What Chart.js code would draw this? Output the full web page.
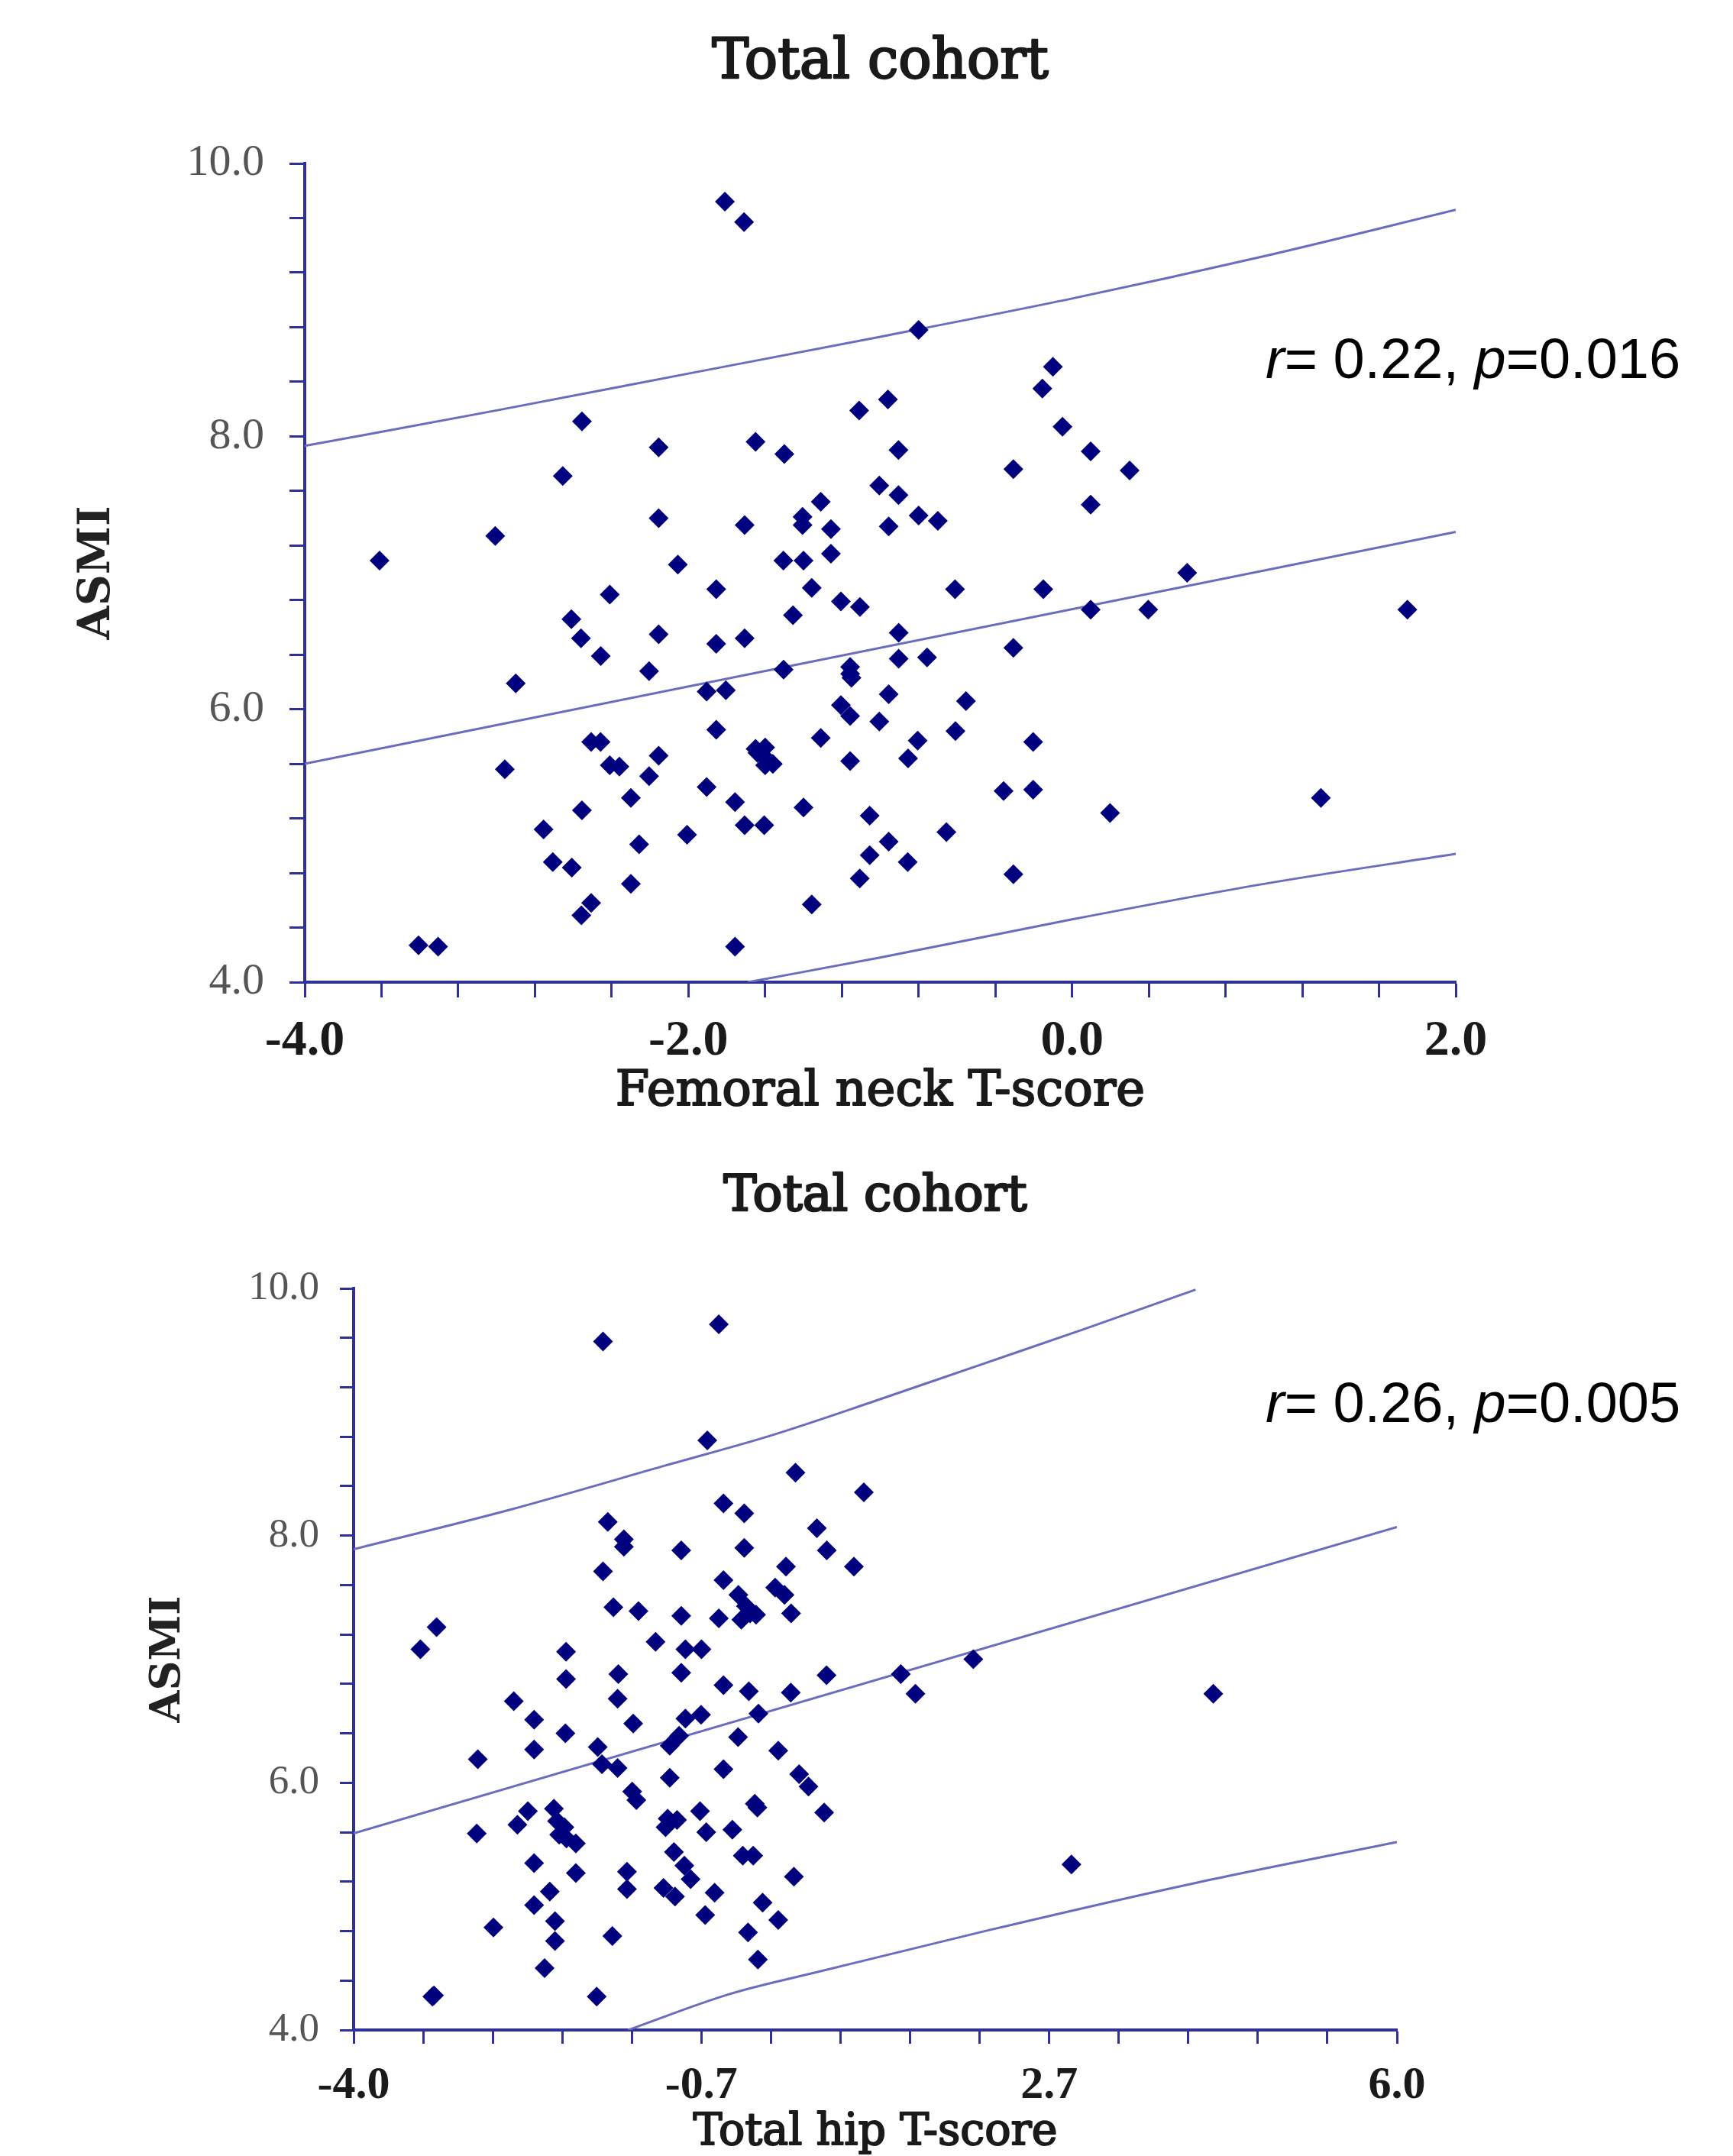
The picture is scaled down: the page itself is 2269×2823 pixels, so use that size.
<!DOCTYPE html>
<html>
<head>
<meta charset="utf-8">
<title>ASMI vs T-score</title>
<script src="https://cdn.jsdelivr.net/npm/chart.js@4.4.0/dist/chart.umd.min.js"></script>
<style>
  html, body { margin: 0; padding: 0; background: #fff; }
  body { width: 2269px; height: 2823px; position: relative; overflow: hidden; }
  canvas { position: absolute; left: 0; }
  #fnChart { top: 0; }
  #thChart { top: 1470px; }
</style>
</head>
<body>
<canvas id="fnChart" width="2269" height="1470"></canvas>
<canvas id="thChart" width="2269" height="1353"></canvas>
<script>
// --- Femoral neck panel: points ---
const fnX = [-1.81, -1.71, -0.80, -0.10, -0.155, -1.11, -0.96, -2.555, -0.05, -2.155,
  -1.65, -1.50, -0.905, 0.097, 0.30, -0.306, -2.655, -1.005, -0.905, -1.31,
  0.097, -2.155, -1.707, -1.405, -1.405, -1.257, -0.956, -0.80, -0.70, -3.007,
  -1.257, -3.61, -2.055, -1.505, -1.40, -1.357, -1.855, -2.41, -0.61, -0.15,
  0.60, -1.205, -1.106, -1.455, 0.097, 0.397, 1.748, -2.61, -2.56, -2.155,
  -1.707, -1.855, -0.904, -0.306, -2.457, -0.904, -0.756, -1.157, -1.157, -1.15,
  -2.205, -1.504, -2.90, -1.905, -1.805, -0.956, -0.553, -1.205, -1.157, -1.005,
  -0.608, -1.855, -1.31, -2.507, -2.458, -0.805, -0.203, -1.65, -1.60, -2.155,
  -1.61, -1.64, -1.56, -1.60, -1.157, -0.855, -2.41, -2.36, -2.957, -2.205,
  -1.905, -0.357, -0.203, -2.30, 1.297, -1.757, -1.40, -2.555, -1.055, 0.198,
  -2.755, -2.007, -1.707, -1.605, -0.655, -0.956, -2.257, -1.055, -0.857, -2.707,
  -2.608, -1.107, -0.306, -2.30, -1.357, -2.507, -2.558, -3.407, -3.305, -1.757];
const fnY = [9.72, 9.57, 8.78, 8.51, 8.35, 8.19, 8.27, 8.11, 8.07, 7.92,
  7.96, 7.87, 7.90, 7.89, 7.75, 7.76, 7.71, 7.64, 7.57, 7.52,
  7.50, 7.40, 7.35, 7.41, 7.35, 7.32, 7.34, 7.42, 7.38, 7.27,
  7.14, 7.09, 7.06, 7.09, 7.09, 6.89, 6.88, 6.84, 6.88, 6.88,
  7.00, 6.79, 6.75, 6.69, 6.73, 6.73, 6.73, 6.66, 6.52, 6.55,
  6.52, 6.48, 6.56, 6.45, 6.39, 6.37, 6.38, 6.31, 6.26, 6.23,
  6.28, 6.29, 6.19, 6.13, 6.14, 6.11, 6.06, 6.03, 5.95, 5.91,
  5.84, 5.85, 5.79, 5.76, 5.76, 5.77, 5.76, 5.71, 5.72, 5.66,
  5.66, 5.68, 5.60, 5.59, 5.62, 5.64, 5.59, 5.58, 5.56, 5.51,
  5.43, 5.40, 5.41, 5.35, 5.35, 5.32, 5.28, 5.26, 5.22, 5.24,
  5.12, 5.08, 5.15, 5.15, 5.10, 5.03, 5.01, 4.93, 4.88, 4.88,
  4.84, 4.76, 4.79, 4.72, 4.57, 4.58, 4.49, 4.27, 4.26, 4.26];

// fit line and prediction band
const fnFitX = [-4, 2];
const fnFitY = [5.60, 7.30];
const fnUpX = [-4, -3, -2, -1, 0, 1, 2];
const fnUpY = [7.93, 8.19, 8.46, 8.73, 9.01, 9.32, 9.66];
const fnLoX = [-1.69, -1, 0, 1, 2];
const fnLoY = [4.00, 4.18, 4.46, 4.72, 4.94];

const fnXLabels = ['-4.0', '-2.0', '0.0', '2.0'];
const fnNote = ['r', '= 0.22, ', 'p', '=0.016'];

// --- Total hip panel ---
const thX = [-0.50, -1.61, -0.61, 0.235, 0.89, -0.455, -0.256, -1.564, 0.44, -1.41,
  -1.41, -0.86, -0.256, 0.535, 0.144, 0.795, -1.61, -0.455, -0.312, 0.04,
  0.13, -1.51, -1.27, -0.86, -0.50, -0.24, -0.20, -0.284, -0.143, 0.193,
  -3.205, -3.36, -1.106, -1.964, -0.82, -0.666, -1.463, -1.964, -0.86, 0.533,
  1.245, 1.94, -0.455, -0.212, 0.19, 1.385, 4.24, -2.465, -1.47, -2.27,
  -0.67, -0.82, -0.12, -1.97, -1.32, -0.315, -2.27, -1.66, -0.97, -0.88,
  0.07, -2.81, -1.62, -1.47, -0.455, 0.27, -0.97, 0.36, -1.33, -1.29,
  -0.155, -0.13, -2.33, -2.08, -0.68, 0.51, -0.99, -0.90, -2.05, -2.43,
  -1.98, -1.01, -2.82, -2.03, -0.37, -0.62, -1.96, -1.87, -0.93, -0.27,
  -0.17, -0.83, -2.27, 2.88, -1.38, -1.87, -0.77, 0.22, -1.38, -1.03,
  -0.92, -0.54, -2.12, -0.08, -2.27, -0.63, -2.07, 0.07, -2.66, -2.07,
  -0.22, -1.52, -2.17, -0.125, -3.245, -3.23, -1.67];
const thY = [9.71, 9.57, 8.77, 8.51, 8.35, 8.26, 8.18, 8.11, 8.06, 7.97,
  7.91, 7.88, 7.90, 7.88, 7.75, 7.75, 7.71, 7.64, 7.52, 7.58,
  7.52, 7.42, 7.39, 7.35, 7.33, 7.43, 7.37, 7.32, 7.36, 7.37,
  7.26, 7.08, 7.14, 7.06, 7.08, 7.08, 6.88, 6.84, 6.89, 6.87,
  6.88, 7.00, 6.79, 6.74, 6.73, 6.72, 6.72, 6.66, 6.68, 6.51,
  6.55, 6.52, 6.56, 6.40, 6.48, 6.37, 6.27, 6.29, 6.30, 6.38,
  6.26, 6.19, 6.15, 6.12, 6.11, 6.07, 6.04, 5.97, 5.93, 5.86,
  5.83, 5.80, 5.77, 5.79, 5.77, 5.76, 5.71, 5.70, 5.69, 5.66,
  5.64, 5.64, 5.59, 5.58, 5.62, 5.60, 5.55, 5.51, 5.44, 5.41,
  5.41, 5.33, 5.35, 5.34, 5.28, 5.27, 5.22, 5.24, 5.14, 5.15,
  5.08, 5.11, 5.12, 5.03, 5.01, 4.93, 4.88, 4.89, 4.83, 4.72,
  4.79, 4.76, 4.50, 4.57, 4.27, 4.28, 4.27];

const thFitX = [-4, 6];
const thFitY = [5.59, 8.07];
const thUpX = [-4, -2.5, -1, 0, 1, 2, 3, 4.07];
const thUpY = [7.89, 8.21, 8.57, 8.81, 9.09, 9.38, 9.67, 9.99];
const thLoX = [-1.37, -0.4, 0.5, 2.1, 4.07, 6];
const thLoY = [4.00, 4.29, 4.48, 4.81, 5.19, 5.52];

const thXLabels = ['-4.0', '-0.7', '2.7', '6.0'];
const thNote = ['r', '= 0.26, ', 'p', '=0.005'];

const yLabels = ['4.0', '6.0', '8.0', '10.0'];

// --- styling ---
const NAVY = '#00007f';
const AXIS = '#30309a';
const BAND = '#6c6cbe';

function pairs(xs, ys) {
    return xs.map((x, i) => ({ x: x, y: ys[i] }));
}

// minor tick every fifth of a labelled step
function tickValues(min, max) {
    const out = [];
    for (let i = 0; i <= 15; i++) out.push(+(min + i * (max - min) / 15).toFixed(6));
    return out;
}

function bandLine(xs, ys) {
    return {
        data: pairs(xs, ys),
        showLine: true,
        pointRadius: 0,
        pointHoverRadius: 0,
        borderColor: BAND,
        borderWidth: 3,
        fill: false,
        cubicInterpolationMode: 'monotone'
    };
}

// titles, axis titles and the r/p note
const decor = {
    id: 'decor',
    afterDraw(chart, args, o) {
        const ctx = chart.ctx;
        const area = chart.chartArea;
        const cx = (area.left + area.right) / 2;
        ctx.save();
        ctx.fillStyle = '#1a1a1a';
        ctx.strokeStyle = '#1a1a1a';
        ctx.lineJoin = 'round';
        ctx.textAlign = 'center';
        ctx.textBaseline = 'alphabetic';
        ctx.font = o.titleSize + 'px "DejaVu Serif"';
        ctx.lineWidth = 2.5;
        ctx.fillText(o.title, cx, o.titleY);
        ctx.strokeText(o.title, cx, o.titleY);
        ctx.font = o.xTitleSize + 'px "DejaVu Serif"';
        ctx.lineWidth = 2;
        ctx.fillText(o.xTitle, cx, o.xTitleY);
        ctx.strokeText(o.xTitle, cx, o.xTitleY);

        ctx.save();
        ctx.translate(o.yTitleX, (area.top + area.bottom) / 2);
        ctx.rotate(-Math.PI / 2);
        ctx.fillStyle = '#222';
        ctx.font = 'bold ' + o.yTitleSize + 'px "DejaVu Serif"';
        ctx.fillText(o.yTitle, 0, 0);
        ctx.restore();

        ctx.textAlign = 'left';
        ctx.fillStyle = '#000';
        let x = o.noteX;
        o.note.forEach((part, i) => {
            ctx.font = (i % 2 === 0 ? 'italic ' : '') + o.noteSize + 'px "Liberation Sans"';
            ctx.fillText(part, x, o.noteY);
            x += ctx.measureText(part).width;
        });
        ctx.restore();
    }
};

function makeChart(id, c) {
    const xTicks = tickValues(c.xMin, c.xMax);
    const yTicks = tickValues(4, 10);
    return new Chart(document.getElementById(id), {
        type: 'scatter',
        data: {
            datasets: [
                {
                    data: pairs(c.px, c.py),
                    pointStyle: 'rectRot',
                    pointRadius: 13,
                    pointHoverRadius: 13,
                    backgroundColor: NAVY,
                    borderColor: NAVY,
                    borderWidth: 0
                },
                bandLine(c.fitX, c.fitY),
                bandLine(c.upX, c.upY),
                bandLine(c.loX, c.loY)
            ]
        },
        options: {
            responsive: false,
            animation: false,
            devicePixelRatio: 1,
            events: [],
            layout: { autoPadding: false, padding: c.padding },
            plugins: {
                legend: { display: false },
                tooltip: { enabled: false },
                decor: c.decor
            },
            scales: {
                x: {
                    type: 'linear',
                    position: 'bottom',
                    min: c.xMin,
                    max: c.xMax,
                    afterFit: s => { s.height = c.xAxisH; },
                    afterBuildTicks: s => { s.ticks = xTicks.map(v => ({ value: v })); },
                    grid: { drawOnChartArea: false, drawTicks: true, tickLength: c.tickLen, tickColor: AXIS, tickWidth: 3 },
                    border: { display: true, color: AXIS, width: 4 },
                    ticks: {
                        autoSkip: false,
                        maxRotation: 0,
                        padding: c.xTickPad,
                        color: '#1a1a1a',
                        font: { family: '"Liberation Serif"', size: c.xTickSize, weight: 'bold' },
                        callback: (v, i) => (i % 5 === 0 ? c.xLabels[i / 5] : '')
                    }
                },
                y: {
                    type: 'linear',
                    position: 'left',
                    min: 4,
                    max: 10,
                    afterFit: s => { s.width = c.yAxisW; },
                    afterBuildTicks: s => { s.ticks = yTicks.map(v => ({ value: v })); },
                    grid: { drawOnChartArea: false, drawTicks: true, tickLength: c.tickLen, tickColor: AXIS, tickWidth: 3 },
                    border: { display: true, color: AXIS, width: 4 },
                    ticks: {
                        autoSkip: false,
                        padding: c.yTickPad,
                        color: '#555',
                        font: { family: '"Liberation Serif"', size: c.yTickSize },
                        callback: (v, i) => (i % 5 === 0 ? yLabels[i / 5] : '')
                    }
                }
            }
        },
        plugins: [decor]
    });
}

makeChart('fnChart', {
    px: fnX, py: fnY,
    fitX: fnFitX, fitY: fnFitY, upX: fnUpX, upY: fnUpY, loX: fnLoX, loY: fnLoY,
    xMin: -4, xMax: 2, xLabels: fnXLabels,
    padding: { top: 214, left: 0, right: 363, bottom: 0 },
    yAxisW: 399, xAxisH: 184, tickLen: 20,
    xTickPad: 18, xTickSize: 66, yTickPad: 33, yTickSize: 58,
    decor: {
        title: 'Total cohort', titleSize: 72, titleY: 102,
        xTitle: 'Femoral neck T-score', xTitleSize: 64, xTitleY: 1447,
        yTitle: 'ASMI', yTitleSize: 57, yTitleX: 143,
        note: fnNote, noteSize: 74, noteX: 1657, noteY: 495
    }
});

makeChart('thChart', {
    px: thX, py: thY,
    fitX: thFitX, fitY: thFitY, upX: thUpX, upY: thUpY, loX: thLoX, loY: thLoY,
    xMin: -4, xMax: 6, xLabels: thXLabels,
    padding: { top: 217, left: 0, right: 440, bottom: 0 },
    yAxisW: 463, xAxisH: 165, tickLen: 18,
    xTickPad: 19, xTickSize: 60, yTickPad: 27, yTickSize: 53,
    decor: {
        title: 'Total cohort', titleSize: 65, titleY: 115,
        xTitle: 'Total hip T-score', xTitleSize: 57, xTitleY: 1338,
        yTitle: 'ASMI', yTitleSize: 54, yTitleX: 235,
        note: thNote, noteSize: 74, noteX: 1657, noteY: 392
    }
});
</script>
</body>
</html>
